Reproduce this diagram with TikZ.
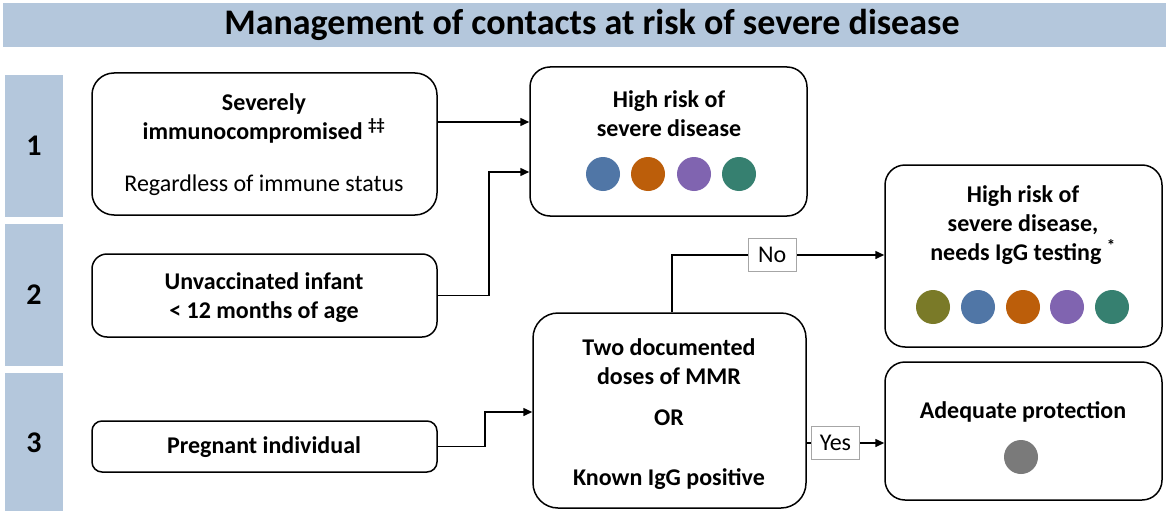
\documentclass[tikz,border=0pt]{standalone}
\usepackage{fontspec}
\setmainfont{Carlito}
\usetikzlibrary{arrows.meta,calc}
\definecolor{barblue}{HTML}{B4C7DC}
\definecolor{cblue}{HTML}{5076A6}
\definecolor{corange}{HTML}{BC5E0A}
\definecolor{cpurple}{HTML}{8064B0}
\definecolor{cteal}{HTML}{368070}
\definecolor{colive}{HTML}{7A7A28}
\definecolor{cgray}{HTML}{7A7A7A}
\tikzset{
  box/.style={draw=black,line width=1.5pt,rounded corners=20pt,fill=white,inner sep=0pt},
  bar/.style={fill=barblue,draw=none,inner sep=0pt},
  txt/.style={font=\fontsize{24}{29}\selectfont\bfseries,align=center,inner sep=0pt},
  rtxt/.style={font=\fontsize{24}{29}\selectfont,align=center,inner sep=0pt},
  num/.style={font=\fontsize{30}{34}\selectfont\bfseries,inner sep=0pt},
  dot/.style={circle,minimum size=34pt,inner sep=0pt,draw=none},
  arr/.style={line width=1.5pt,-{Triangle[length=9pt,width=8pt]}},
  lbl/.style={draw=gray!70,line width=0.8pt,fill=white,font=\fontsize{24}{26}\selectfont,inner sep=0pt,minimum width=48pt,minimum height=33pt},
}
\begin{document}
\begin{tikzpicture}[x=1pt,y=-1pt]
\useasboundingbox (0,0) rectangle (1167,511);
% title bar
\node[bar,minimum width=1163pt,minimum height=44pt] (tbar) at (584,25) {};
\node[font=\fontsize{36}{40}\selectfont\bfseries,inner sep=0pt] (title) at (592,25) {Management of contacts at risk of severe disease};
% side bars
\node[bar,minimum width=58pt,minimum height=142pt] (bar1) at (34,146) {};
\node[bar,minimum width=58pt,minimum height=142pt] (bar2) at (34,295) {};
\node[bar,minimum width=58pt,minimum height=140pt] (bar3) at (34,443) {};
\node[num] (n1) at (bar1) {1};
\node[num] (n2) at (bar2) {2};
\node[num] (n3) at (bar3) {3};
% left boxes
\node[box,minimum width=345pt,minimum height=142pt,rounded corners=22pt] (A) at (264.5,144) {};
\node[txt] (Ta) at (264,118.5) {Severely\\immunocompromised \textsuperscript{‡‡}};
\node[rtxt] (Ta2) at (264,185) {Regardless of immune status};
\node[box,minimum width=345pt,minimum height=83pt,rounded corners=15pt] (B) at (264.5,295.5) {};
\node[txt] (Tb) at (264,297.5) {Unvaccinated infant\\< 12 months of age};
\node[box,minimum width=345pt,minimum height=51pt,rounded corners=10pt] (C) at (264.5,446.5) {};
\node[txt] (Tc) at (264,447) {Pregnant individual};
% D
\node[box,minimum width=277pt,minimum height=149pt] (D) at (668.5,141.5) {};
\node[txt] (Td) at (669,113.5) {High risk of\\severe disease};
\node[dot,fill=cblue] (d1) at (603,174) {};
\node[dot,fill=corange] (d2) at (648,174) {};
\node[dot,fill=cpurple] (d3) at (694,174) {};
\node[dot,fill=cteal] (d4) at (739,174) {};
% E
\node[box,minimum width=277pt,minimum height=182pt] (E) at (1023.5,256) {};
\node[txt] (Te) at (1023,225) {High risk of\\severe disease,\\needs IgG testing \textsuperscript{*}};
\node[dot,fill=colive] (e1) at (933,307) {};
\node[dot,fill=cblue] (e2) at (978,307) {};
\node[dot,fill=corange] (e3) at (1023,307) {};
\node[dot,fill=cpurple] (e4) at (1067,307) {};
\node[dot,fill=cteal] (e5) at (1112,307) {};
% F
\node[box,minimum width=273pt,minimum height=195pt,rounded corners=25pt] (F) at (669.5,410.5) {};
\node[txt] (Tf) at (669,362) {Two documented\\doses of MMR};
\node[txt] (Tf2) at (669,418) {OR};
\node[txt] (Tf3) at (669,479) {Known IgG positive};
% G
\node[box,minimum width=277pt,minimum height=138pt] (G) at (1023.5,431) {};
\node[txt] (Tg) at (1023,412) {Adequate protection};
\node[dot,fill=cgray] (g1) at (1021,457) {};
% connectors
\draw[arr] (A.east |- 0,122) -- (D.west |- 0,122);
\draw[arr] (B.east) -- ++(51,0) |- (D.west |- 0,172);
\draw[arr] (C.east) -- ++(47,0) |- (F.west |- 0,412);
\draw[arr] (F.north -| 672,0) |- node[lbl,pos=0.736] (no) {No} (E.west |- 0,255);
\draw[arr] (F.east |- 0,443) -- node[lbl,pos=0.37] (yes) {Yes} (G.west |- 0,443);
\end{tikzpicture}
\end{document}
